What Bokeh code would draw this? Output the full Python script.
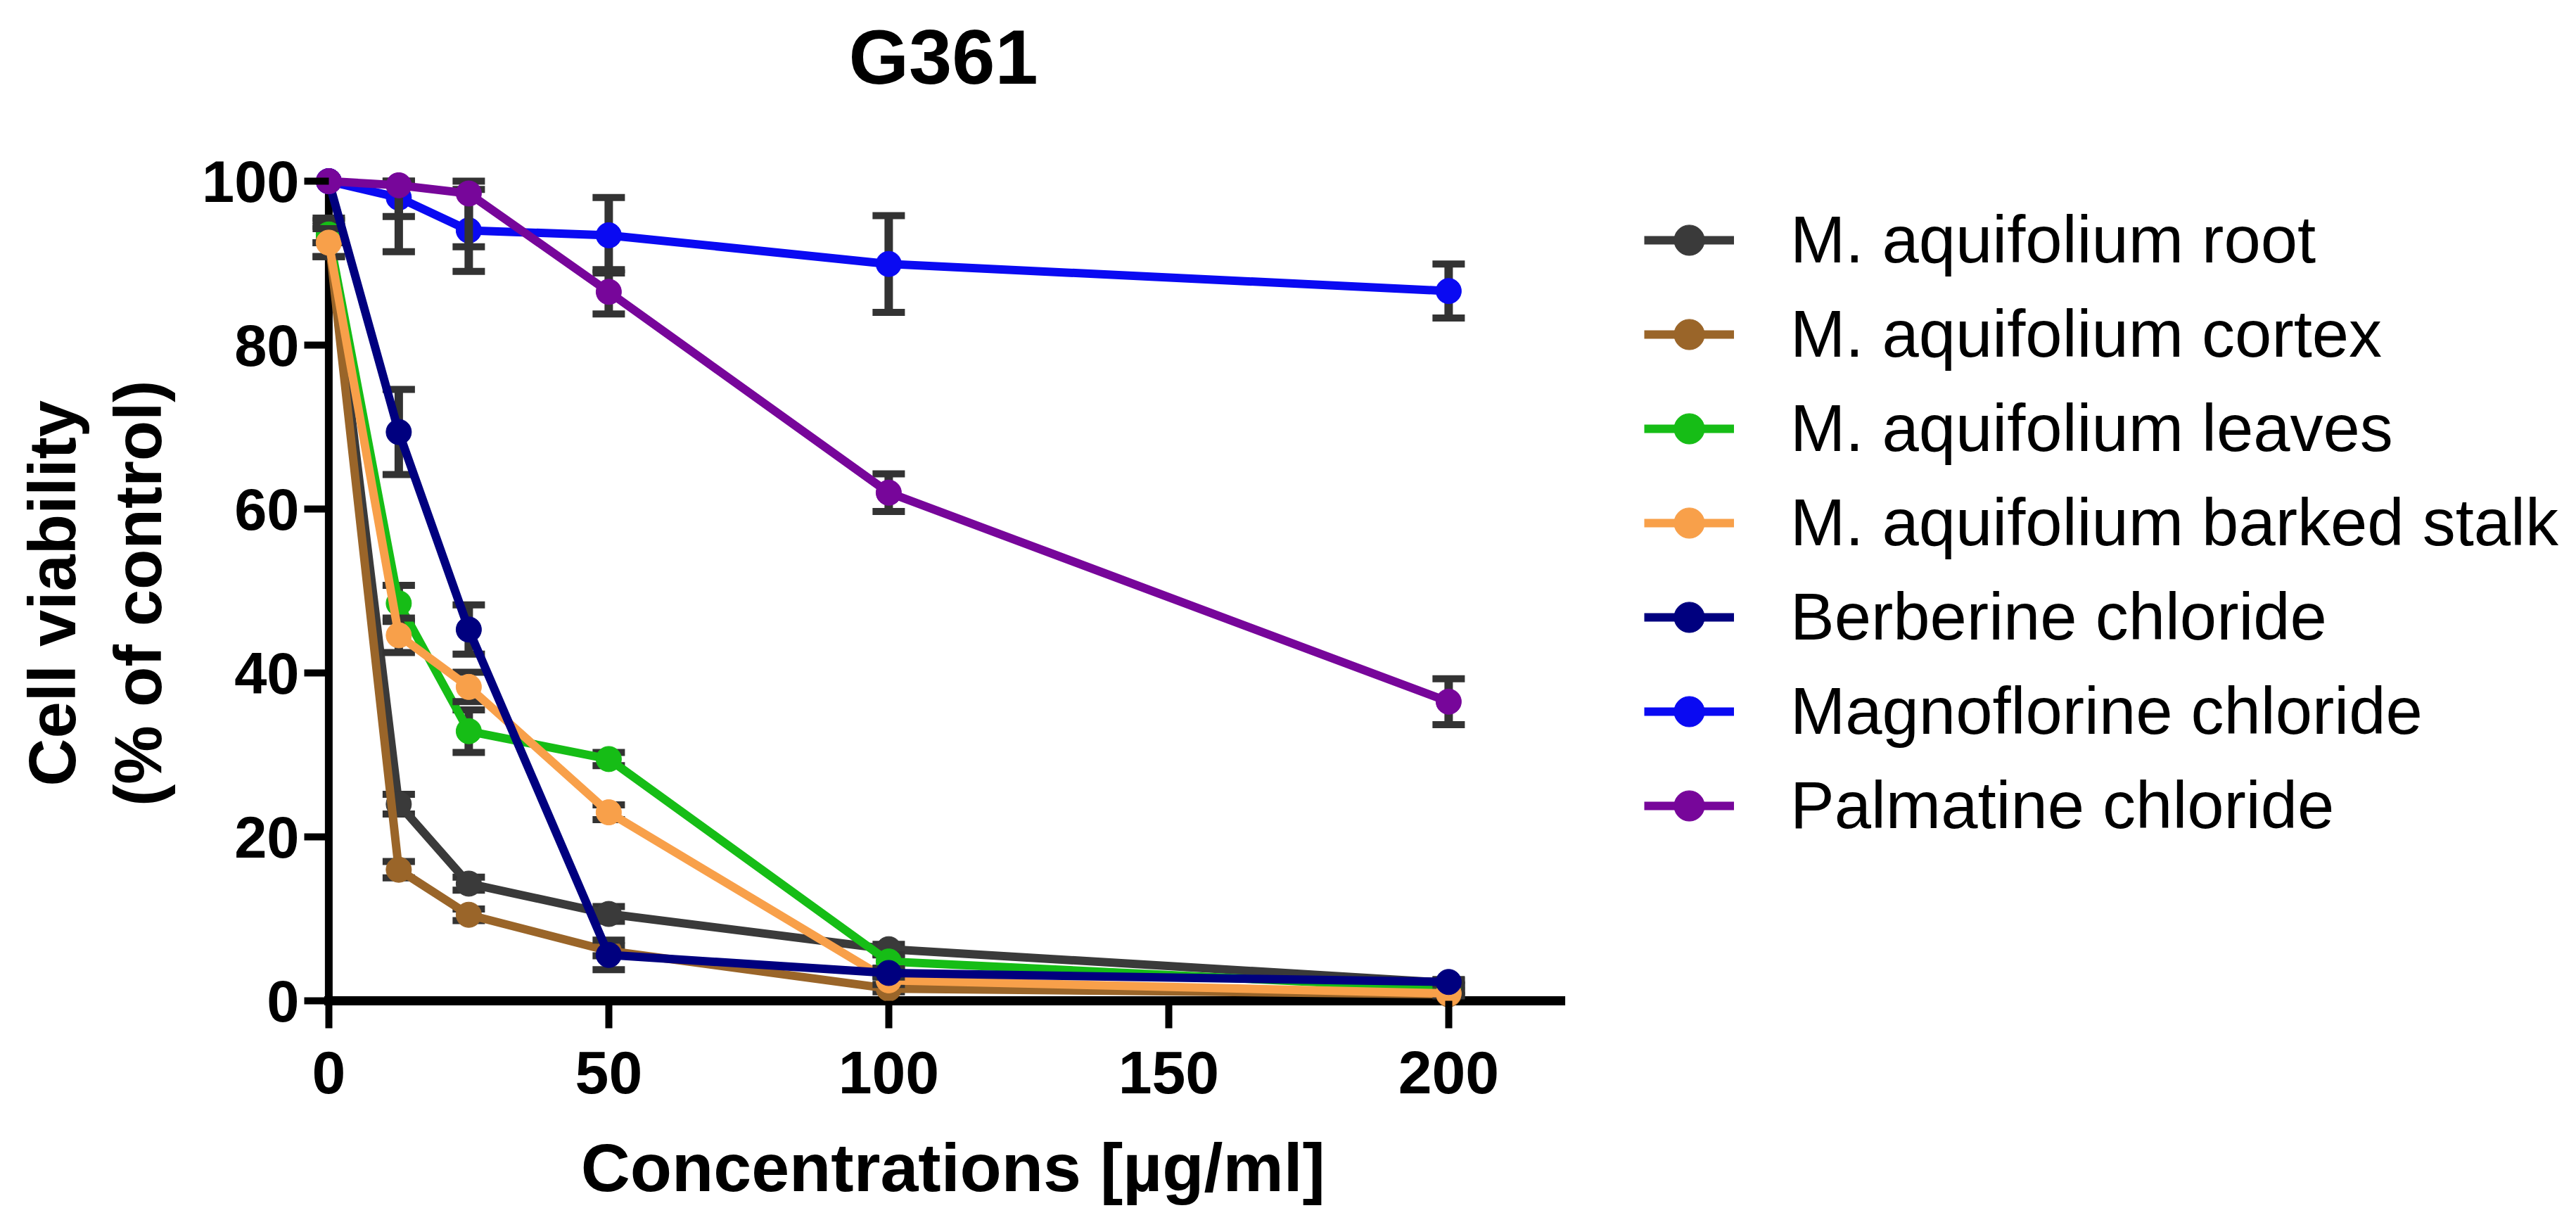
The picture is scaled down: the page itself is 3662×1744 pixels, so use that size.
import numpy as np
from bokeh.plotting import figure
from bokeh.models import ColumnDataSource, Legend, LegendItem, FixedTicker, Range1d
from bokeh.embed import file_html
from bokeh.resources import INLINE

# concentrations (ug/ml)
conc = [0, 12.5, 25, 50, 100, 200]

series_names = [
    "M. aquifolium root",
    "M. aquifolium cortex",
    "M. aquifolium leaves",
    "M. aquifolium barked stalk",
    "Berberine chloride",
    "Magnoflorine chloride",
    "Palmatine chloride",
]

# cell viability, % of control (mean)
root_mean = [94.0, 24.0, 14.3, 10.6, 6.3, 2.2]
cortex_mean = [93.0, 16.0, 10.5, 6.1, 1.5, 0.8]
leaves_mean = [93.5, 48.5, 32.9, 29.5, 4.8, 1.5]
stalk_mean = [92.5, 44.6, 38.3, 23.0, 2.5, 0.9]
berberine_mean = [100.0, 69.4, 45.3, 5.6, 3.4, 2.3]
magnoflorine_mean = [100.0, 98.0, 94.0, 93.4, 89.9, 86.6]
palmatine_mean = [100.0, 99.5, 98.5, 86.5, 62.0, 36.5]

# error bars (SEM)
root_sem = [1.5, 1.2, 0.8, 0.9, 0.6, 0.3]
cortex_sem = [2.2, 1.0, 0.7, 0.6, 0.4, 0.2]
leaves_sem = [1.0, 2.2, 2.6, 0.8, 0.8, 0.3]
stalk_sem = [1.7, 2.1, 1.8, 0.9, 0.5, 0.2]
berberine_sem = [0.0, 5.2, 3.0, 1.8, 0.5, 0.3]
magnoflorine_sem = [0.0, 6.6, 5.0, 4.6, 5.9, 3.3]
palmatine_sem = [0.0, 3.8, 6.5, 2.7, 2.3, 2.8]

colors = ["#3a3a3a", "#9a6529", "#16bd16", "#f8a04a", "#00007f", "#0a0af2", "#77069a"]
err_color = "#333333"

x_ticks = [0, 50, 100, 150, 200]
y_ticks = [0, 20, 40, 60, 80, 100]
x_axis_end = 220
y_axis_end = 100

means = [root_mean, cortex_mean, leaves_mean, stalk_mean,
         berberine_mean, magnoflorine_mean, palmatine_mean]
sems = [root_sem, cortex_sem, leaves_sem, stalk_sem,
        berberine_sem, magnoflorine_sem, palmatine_sem]

font = "Liberation Sans"
W, H = 3646, 1728
frame_left, frame_right = 443, 3640
frame_top, frame_bottom = 150, 1457
px_x, px_y = 7.96, 11.65
x0, y0 = -3.0, -3.0
x1 = x0 + (frame_right - frame_left) / px_x
y1 = y0 + (frame_bottom - frame_top) / px_y
gap_x = -x0 * px_x   # frame edge to the y axis line
gap_y = -y0 * px_y   # frame edge to the x axis line

# axis titles are centred on the whole frame (which also holds the legend);
# trailing no-break spaces move the visible words over the axes
pad = "\u00a0"
x_title = "Concentrations [\u00b5g/ml]" + pad * 51
y_title = "Cell viability" + pad * 3 + "\n(% of control)" + pad * 3

p = figure(width=W, height=H, x_range=Range1d(x0, x1), y_range=Range1d(y0, y1),
           output_backend="svg", toolbar_location=None, title="G361",
           min_border_left=frame_left, min_border_right=W - frame_right,
           min_border_top=frame_top, min_border_bottom=H - frame_bottom)
p.outline_line_color = None
p.grid.visible = False

p.title.align = "left"
p.title.offset = 763
p.title.standoff = 18
p.title.text_font = font
p.title.text_font_size = "110px"
p.title.text_font_style = "bold"
p.title.text_color = "black"

# axis lines sit at x=0 / y=0, ticks reach them from the frame edges
p.segment(x0=[0, 0], y0=[0, 0], x1=[x_axis_end, 0], y1=[0, y_axis_end],
          line_color="black", line_width=[13, 11], line_cap="square")

xa = p.xaxis[0]
xa.bounds = (0, x_axis_end)
xa.ticker = FixedTicker(ticks=x_ticks)
xa.axis_line_color = None
xa.major_tick_in = int(round(gap_y))
xa.major_tick_out = 4
xa.major_tick_line_width = 10
xa.major_tick_line_color = "black"
xa.minor_tick_line_color = None
xa.major_label_standoff = 33
xa.major_label_text_font = font
xa.major_label_text_font_size = "86px"
xa.major_label_text_font_style = "bold"
xa.major_label_text_color = "black"
xa.axis_label = x_title
xa.axis_label_standoff = 48
xa.axis_label_text_font = font
xa.axis_label_text_font_size = "97px"
xa.axis_label_text_font_style = "bold"
xa.axis_label_text_color = "black"

ya = p.yaxis[0]
ya.bounds = (0, y_axis_end)
ya.ticker = FixedTicker(ticks=y_ticks)
ya.axis_line_color = None
ya.major_tick_in = int(round(gap_x))
ya.major_tick_out = 11
ya.major_tick_line_width = 10
ya.major_tick_line_color = "black"
ya.minor_tick_line_color = None
ya.major_label_standoff = 7
ya.major_label_text_font = font
ya.major_label_text_font_size = "83px"
ya.major_label_text_font_style = "bold"
ya.major_label_text_color = "black"
ya.axis_label = y_title
ya.axis_label_standoff = 35
ya.axis_label_text_font = font
ya.axis_label_text_font_size = "94px"
ya.axis_label_text_font_style = "bold"
ya.axis_label_text_color = "black"
ya.axis_label_text_line_height = 1.16

items = []
for name, mean, sem, color in zip(series_names, means, sems, colors):
    src = ColumnDataSource(data=dict(x=conc, y=mean))
    # error bars stop at the top of the axis, as in the original figure
    ex = [c for c, s in zip(conc, sem) if s > 0]
    lo = [m - s for m, s in zip(mean, sem) if s > 0]
    hi = [min(m + s, y_axis_end) for m, s in zip(mean, sem) if s > 0]
    err = ColumnDataSource(data=dict(x=ex, lo=lo, hi=hi))
    p.segment(x0="x", y0="lo", x1="x", y1="hi", source=err, line_color=err_color, line_width=12)
    p.scatter(x="x", y="lo", source=err, marker="dash", size=46, line_color=err_color, line_width=10)
    p.scatter(x="x", y="hi", source=err, marker="dash", size=46, line_color=err_color, line_width=10)
    ln = p.line(x="x", y="y", source=src, line_color=color, line_width=12, line_join="round")
    sc = p.scatter(x="x", y="y", source=src, size=36, fill_color=color, line_color=color)
    items.append(LegendItem(label=name, renderers=[ln, sc]))

legend = Legend(items=items, location=(1894, 258), orientation="vertical",
                label_text_font=font, label_text_font_size="94px", label_text_color="black",
                glyph_width=128, glyph_height=108, label_height=108, spacing=26,
                label_standoff=80, padding=0, margin=0,
                border_line_color=None, background_fill_alpha=0)
p.add_layout(legend)

open("out.html", "w").write(file_html(p, INLINE))
